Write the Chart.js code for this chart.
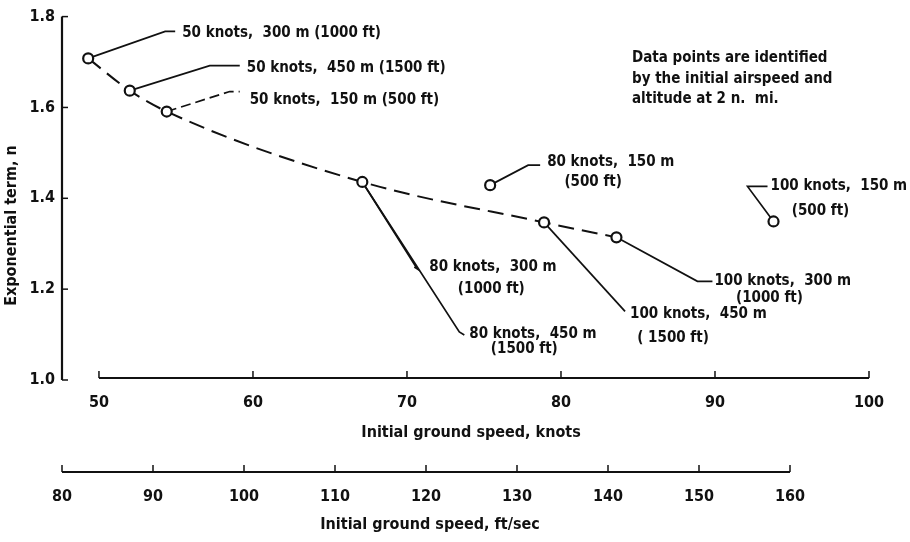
<!DOCTYPE html>
<html><head><meta charset="utf-8">
<script src="https://cdn.jsdelivr.net/npm/chart.js@4.4.0/dist/chart.umd.min.js"></script>
<style>html,body{margin:0;padding:0;background:#fff;}#wrap{width:910px;height:542px;position:relative;}</style>
</head><body><div id="wrap"><canvas id="c" width="910" height="542"></canvas></div>
<script>
// ---- data ----
const pointKnots = [49.3, 52.0, 54.4, 67.1, 75.4, 78.9, 83.6, 93.8];
const pointN     = [1.708, 1.637, 1.591, 1.436, 1.429, 1.347, 1.314, 1.349];
const curveKnots = [49.3, 52.0, 54.4, 67.1, 78.9, 83.6];
const curveN     = [1.708, 1.637, 1.591, 1.436, 1.347, 1.314];
const knotTicks  = [50, 60, 70, 80, 90, 100];
const ftTicks    = [80, 90, 100, 110, 120, 130, 140, 150, 160];
const nTicks     = [1.0, 1.2, 1.4, 1.6, 1.8];
const pointLabels = [
  ['50 knots,  300 m (1000 ft)'],
  ['50 knots,  450 m (1500 ft)'],
  ['50 knots,  150 m (500 ft)'],
  ['80 knots,  300 m', '(1000 ft)', '80 knots,  450 m', '(1500 ft)'],
  ['80 knots,  150 m', '(500 ft)'],
  ['100 knots,  450 m', '( 1500 ft)'],
  ['100 knots,  300 m', '(1000 ft)'],
  ['100 knots,  150 m', '(500 ft)']
];
const noteLines = ['Data points are identified', 'by the initial airspeed and', 'altitude at 2 n.  mi.'];
const yTitle = 'Exponential term, n';
const xTitle = 'Initial ground speed, knots';
const x2Title = 'Initial ground speed, ft/sec';

// ---- layout (pixel offsets of leaders/labels relative to their point) ----
const FONT = '"Liberation Sans Narrow", "DejaVu Sans Condensed", "Arial Narrow", sans-serif';
const FS = 16, FSA = 15;
const FW = 'bold';
const leaders = [
  {paths:[[[0,0],[77,-27],[87,-27]]], texts:[[0,94,-25,'left']]},
  {paths:[[[0,0],[80,-25],[110,-25]]], texts:[[0,117,-23,'left']]},
  {paths:[[[0,0],[63,-20],[73,-20]]], dash:true, texts:[[0,83,-11,'left']]},
  {paths:[[[0,0],[55,87],[52,85]], [[0,0],[97,150],[102,153]]],
   texts:[[0,67,85,'left'],[1,129,107,'center'],[2,107,152,'left'],[3,162,167,'center']]},
  {paths:[[[0,0],[38,-20],[50,-20]]], texts:[[0,57,-23,'left'],[1,103,-3,'center']]},
  {paths:[[[0,0],[81,89]]], texts:[[0,86,92,'left'],[1,129,116,'center']]},
  {paths:[[[0,0],[81,44],[96,44]]], texts:[[0,98,44,'left'],[1,153,61,'center']]},
  {paths:[[[0,0],[-26,-35],[-6,-35]]], texts:[[0,-3,-35,'left'],[1,47,-10,'center']]}
];
const kMin = 47.6, kMax = 100.714, fMin = 80, fMax = 169.89;

const annot = {
  id: 'annot',
  beforeDatasetsDraw(chart) {
    const ctx = chart.ctx, xs = chart.scales.x, ys = chart.scales.y;
    ctx.save();
    ctx.strokeStyle = '#111'; ctx.lineWidth = 1.7;
    leaders.forEach((L, i) => {
      const px = xs.getPixelForValue(pointKnots[i]), py = ys.getPixelForValue(pointN[i]);
      ctx.setLineDash(L.dash ? [10, 5] : []);
      L.paths.forEach(p => {
        ctx.beginPath();
        p.forEach((q, j) => j ? ctx.lineTo(px + q[0], py + q[1]) : ctx.moveTo(px + q[0], py + q[1]));
        ctx.stroke();
      });
    });
    ctx.restore();
  },
  afterDraw(chart) {
    const ctx = chart.ctx, xs = chart.scales.x, x2 = chart.scales.x2, ys = chart.scales.y;
    const ca = chart.chartArea;
    ctx.save();
    ctx.strokeStyle = '#111'; ctx.fillStyle = '#111'; ctx.lineWidth = 2.2;
    // y axis
    const yTop = ys.getPixelForValue(1.8), yBot = ys.getPixelForValue(1.0);
    ctx.beginPath(); ctx.moveTo(ca.left, yTop); ctx.lineTo(ca.left, yBot); ctx.stroke();
    ctx.lineWidth = 1.5;
    nTicks.forEach(v => { const y = ys.getPixelForValue(v); ctx.beginPath(); ctx.moveTo(ca.left, y); ctx.lineTo(ca.left + 6, y); ctx.stroke(); });
    // knots axis
    const ky = yBot - 2;
    ctx.lineWidth = 2;
    ctx.beginPath(); ctx.moveTo(xs.getPixelForValue(50), ky); ctx.lineTo(xs.getPixelForValue(100), ky); ctx.stroke();
    ctx.lineWidth = 1.5;
    knotTicks.forEach(v => { const x = xs.getPixelForValue(v); ctx.beginPath(); ctx.moveTo(x, ky); ctx.lineTo(x, ky - 7); ctx.stroke(); });
    // ft/sec axis
    const fy = x2.top + 30;
    ctx.lineWidth = 2;
    ctx.beginPath(); ctx.moveTo(x2.getPixelForValue(80), fy); ctx.lineTo(x2.getPixelForValue(160), fy); ctx.stroke();
    ctx.lineWidth = 1.5;
    ftTicks.forEach(v => { const x = x2.getPixelForValue(v); ctx.beginPath(); ctx.moveTo(x, fy); ctx.lineTo(x, fy - 7); ctx.stroke(); });
    // texts
    ctx.font = FW + ' ' + FS + 'px ' + FONT;
    ctx.textBaseline = 'middle';
    ctx.textAlign = 'center';
    ctx.fillText(x2Title, x2.getPixelForValue(120) + 4, 525);
    ctx.save();
    ctx.translate(12, ys.getPixelForValue(1.34));
    ctx.rotate(-Math.PI / 2);
    ctx.fillText(yTitle, 0, 0);
    ctx.restore();
    ctx.font = FW + ' ' + FSA + 'px ' + FONT;
    leaders.forEach((L, i) => {
      const px = xs.getPixelForValue(pointKnots[i]), py = ys.getPixelForValue(pointN[i]);
      L.texts.forEach(t => { ctx.textAlign = t[3]; ctx.fillText(pointLabels[i][t[0]], px + t[1], py + t[2]); });
    });
    ctx.textAlign = 'left';
    noteLines.forEach((s, i) => ctx.fillText(s, 632, [58, 79, 99][i]));
    ctx.restore();
  }
};

const tickFont = {family: FONT, size: FS, weight: FW};
new Chart(document.getElementById('c'), {
  data: {
    datasets: [
      {type: 'scatter', data: pointKnots.map((k, i) => ({x: k, y: pointN[i]})), order: 0,
       pointRadius: 5, pointHoverRadius: 5, pointBackgroundColor: '#fff', pointBorderColor: '#111', pointBorderWidth: 2.2, showLine: false},
      {type: 'line', data: curveKnots.map((k, i) => ({x: k, y: curveN[i]})), order: 1,
       borderColor: '#111', borderWidth: 2, borderDash: [16, 8], pointRadius: 0, cubicInterpolationMode: 'monotone', fill: false}
    ]
  },
  options: {
    responsive: false, animation: false, events: [], devicePixelRatio: 1,
    layout: {padding: {top: 13, right: 30, bottom: 0, left: 0}},
    plugins: {legend: {display: false}, tooltip: {enabled: false}},
    scales: {
      x: {type: 'linear', position: 'bottom', min: kMin, max: kMax,
          afterBuildTicks: s => { s.ticks = knotTicks.map(v => ({value: v})); },
          afterFit: s => { s.height = 62; },
          grid: {display: false, drawTicks: false}, border: {display: false},
          ticks: {font: tickFont, color: '#111', padding: 13, maxRotation: 0, autoSkip: false},
          title: {display: true, text: xTitle, font: tickFont, color: '#111', padding: {top: 0, bottom: 0}}},
      x2: {type: 'linear', position: 'bottom', min: fMin, max: fMax,
          afterBuildTicks: s => { s.ticks = ftTicks.map(v => ({value: v})); },
          afterFit: s => { s.height = 100; },
          grid: {display: false, drawTicks: false}, border: {display: false},
          ticks: {font: tickFont, color: '#111', padding: 45, maxRotation: 0, autoSkip: false}},
      y: {type: 'linear', position: 'left', min: 1.0, max: 1.8,
          afterBuildTicks: s => { s.ticks = nTicks.map(v => ({value: v})); },
          afterFit: s => { s.width = 62; },
          grid: {display: false, drawTicks: false}, border: {display: false},
          ticks: {font: tickFont, color: '#111', padding: 7, callback: v => v.toFixed(1)}}
    }
  },
  plugins: [annot]
});
</script></body></html>
